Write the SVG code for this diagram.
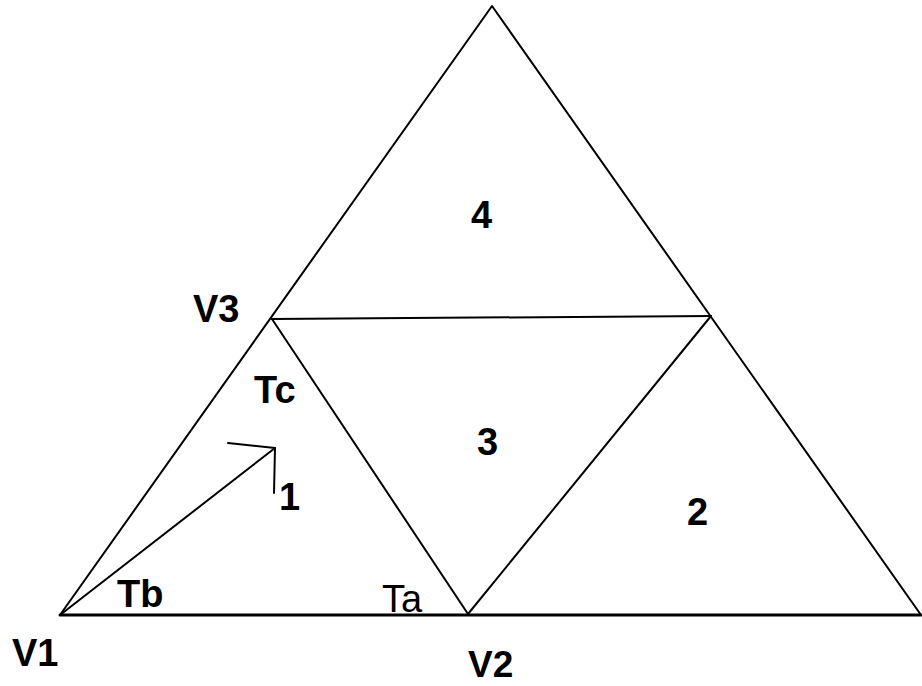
<svg xmlns="http://www.w3.org/2000/svg" width="922" height="686" viewBox="0 0 922 686">
<style>
.ln{stroke:#000;stroke-width:2;fill:none;stroke-linecap:round;stroke-linejoin:round}
.b{font-family:"Liberation Sans",Arial,sans-serif;font-weight:bold;font-size:38px;fill:#000}
.r{font-family:"Liberation Sans",Arial,sans-serif;font-size:38px;fill:#000}
</style>
<rect width="922" height="686" fill="#fff"/>
<g id="edges">
<polyline class="ln" points="60,615 492,6 921,615"/>
<line class="ln" x1="60" y1="615" x2="921" y2="615" style="stroke-width:3"/>
<line class="ln" x1="272" y1="319" x2="711" y2="316"/>
<line class="ln" x1="272" y1="319" x2="468" y2="614"/>
<line class="ln" x1="711" y1="316" x2="468" y2="614"/>
<polyline class="ln" points="60,615 275,448"/>
<polyline class="ln" points="228,443 275,448 274,493"/>
</g>
<g id="labels">
<text class="b" x="12" y="666">V1</text>
<text class="b" x="468" y="677" style="font-size:37px">V2</text>
<text class="b" x="193" y="322">V3</text>
<text class="b" x="117" y="607">Tb</text>
<text class="b" x="254" y="403">Tc</text>
<text class="r" x="382" y="612">Ta</text>
<text class="b" x="471" y="228">4</text>
<text class="b" x="477" y="455">3</text>
<text class="b" x="687" y="525">2</text>
<text class="b" x="279" y="510">1</text>
</g>
</svg>
